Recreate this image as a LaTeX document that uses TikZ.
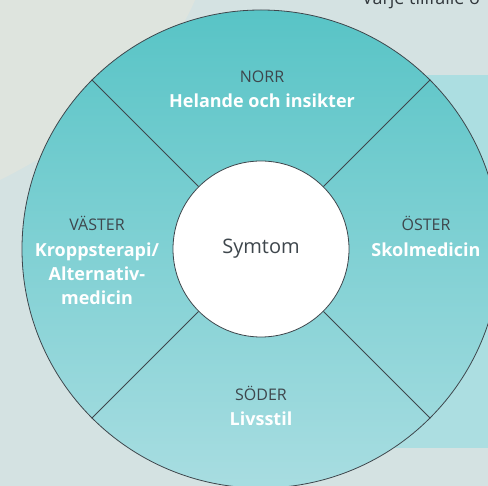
\documentclass[tikz,border=0pt]{standalone}
\usepackage{fontspec}
\setmainfont{Open Sans}
\usetikzlibrary{positioning}
\definecolor{wheeltop}{RGB}{88,196,198}
\definecolor{wheelbottom}{RGB}{168,221,225}
\definecolor{ink}{RGB}{62,70,76}
\definecolor{bgmain}{RGB}{212,226,226}
\definecolor{bglight}{RGB}{222,228,222}
\definecolor{panel}{RGB}{172,222,225}

\begin{document}
\begin{tikzpicture}[x=1pt,y=-1pt,
  head/.style={text=ink, font=\fontsize{16}{20}\selectfont, inner sep=0pt},
  field/.style={text=white, font=\bfseries\fontsize{18}{24}\selectfont, align=center, inner sep=0pt},
  ring/.style={circle, draw=ink, line width=0.8pt, inner sep=0pt}]

\def\cx{261}
\def\cy{249}

\useasboundingbox (0,0) rectangle (488,486);
\clip (0,0) rectangle (488,486);

%---------------------------------------
% Backdrop
%---------------------------------------
\fill[bgmain] (0,0) rectangle (488,486);
\fill[bglight] (0,0) -- (195,0) .. controls (170,60) and (100,130) .. (0,180) -- cycle;
\fill[panel] (380,75) rectangle (488,448);
\node[text=ink!80!black, font=\fontsize{18}{22}\selectfont, anchor=base west, inner sep=0pt] (intro) at (362,5) {Varje tillfälle o};

%---------------------------------------
% Wheel and centre
%---------------------------------------
\node[ring, minimum size=478pt, top color=wheeltop, bottom color=wheelbottom] (wheel) at (\cx,\cy) {};
\node[ring, minimum size=176pt, fill=white, text=ink, font=\fontsize{20}{24}\selectfont] (core) at (\cx,\cy) {Symtom};

% Spokes between the two rings
\foreach \a in {45,135,225,315}
  \draw[ink, line width=0.8pt] (core.\a) -- (wheel.\a);

%---------------------------------------
% Quadrant labels
%---------------------------------------
\node[head, anchor=base] (norr) at (262,83) {NORR};
\node[field, anchor=base] (norrfield) at ([yshift=-25pt]norr.base) {Helande och insikter};

% three lines: base anchor sits on the last one
\node[head, anchor=base] (vaster) at (97,231) {VÄSTER};
\node[field, anchor=base, font=\bfseries\fontsize{18}{24}\selectfont] (vasterfield) at ([yshift=-74pt]vaster.base) {Kroppsterapi/\\Alternativ-\\medicin};

\node[head, anchor=base] (oster) at (426,231) {ÖSTER};
\node[field, anchor=base] (osterfield) at ([yshift=-26pt]oster.base) {Skolmedicin};

\node[head, anchor=base] (soder) at (261,401) {SÖDER};
\node[field, anchor=base] (soderfield) at ([yshift=-25pt]soder.base) {Livsstil};

\end{tikzpicture}
\end{document}
